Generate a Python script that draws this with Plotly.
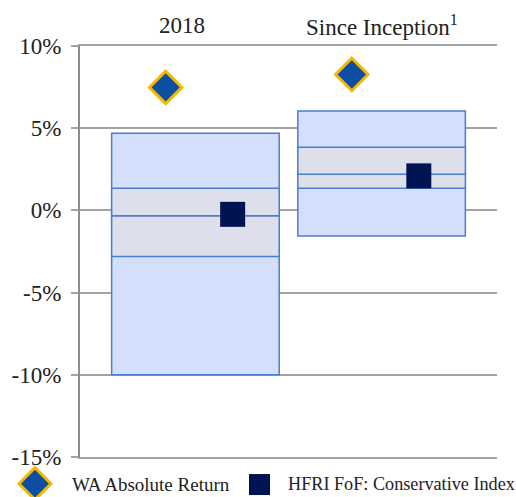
import plotly.graph_objects as go

# datos
categories = ["2018", "Since Inception<sup>1</sup>"]
range_low = [-10.0, -1.55]
range_high = [4.7, 6.05]
q1 = [-2.8, 1.35]
median = [-0.33, 2.2]
q3 = [1.35, 3.84]
wa_return = [7.48, 8.27]
hfri_return = [-0.24, 2.1]
y_ticks = [-15, -10, -5, 0, 5, 10]

font_name = "Liberation Serif"
box_line = "#4A7ECF"
grid_gray = "#A3A3A3"

pos = list(range(len(categories)))

fig = go.Figure()

# rango completo (caja azul clara)
fig.add_trace(go.Bar(
    x=pos, y=[h - l for h, l in zip(range_high, range_low)], base=range_low,
    width=0.9, marker=dict(color="#D4DFFC", line=dict(color=box_line, width=1.5)),
    showlegend=False, hoverinfo="skip"
))
# cuartiles (banda gris) partida en la mediana
fig.add_trace(go.Bar(
    x=pos, y=[m - a for m, a in zip(median, q1)], base=q1,
    width=0.9, marker=dict(color="#DDE0EB", line=dict(color=box_line, width=1.5)),
    showlegend=False, hoverinfo="skip"
))
fig.add_trace(go.Bar(
    x=pos, y=[b - m for b, m in zip(q3, median)], base=median,
    width=0.9, marker=dict(color="#DDE0EB", line=dict(color=box_line, width=1.5)),
    showlegend=False, hoverinfo="skip"
))

# rombos WA y cuadrados HFRI
fig.add_trace(go.Scatter(
    x=[p - 0.16 for p in pos], y=wa_return, mode="markers", name="WA Absolute Return",
    marker=dict(symbol="diamond", size=25, color="#0B4EA2", line=dict(color="#F5B700", width=3)),
    showlegend=False
))
fig.add_trace(go.Scatter(
    x=[p + 0.2 for p in pos], y=hfri_return, mode="markers", name="HFRI FoF: Conservative Index",
    marker=dict(symbol="square", size=25, color="#001352", line=dict(width=0)),
    showlegend=False
))

# etiquetas de categoria arriba
label_shift = [-0.07, 0.0]
for p, cat, s in zip(pos, categories, label_shift):
    fig.add_annotation(x=p + s, y=1.05, xref="x", yref="paper", text=cat, showarrow=False,
                       yanchor="middle", font=dict(family=font_name, size=23, color="#222"))

# leyenda manual
fig.add_shape(type="path", xref="paper", yref="paper", xsizemode="pixel", ysizemode="pixel",
              xanchor=-0.108, yanchor=-0.065, path="M -16 0 L 0 16 L 16 0 L 0 -16 Z",
              fillcolor="#0B4EA2", line=dict(color="#F5B700", width=3))
fig.add_shape(type="path", xref="paper", yref="paper", xsizemode="pixel", ysizemode="pixel",
              xanchor=0.4305, yanchor=-0.067, path="M -10.5 -10.5 L 10.5 -10.5 L 10.5 10.5 L -10.5 10.5 Z",
              fillcolor="#001352", line=dict(width=0))
fig.add_annotation(x=-0.024, y=-0.066, xref="paper", yref="paper", text="WA Absolute Return",
                   showarrow=False, xanchor="left", yanchor="middle",
                   font=dict(family=font_name, size=19, color="#222"))
fig.add_annotation(x=0.494, y=-0.066, xref="paper", yref="paper", text="HFRI FoF: Conservative Index",
                   showarrow=False, xanchor="left", yanchor="middle",
                   font=dict(family=font_name, size=18.2, color="#222"))

fig.update_layout(
    width=516, height=497,
    barmode="overlay",
    margin=dict(l=80, r=19, t=46, b=40),
    plot_bgcolor="white",
    paper_bgcolor="white",
    xaxis=dict(range=[-0.62, 1.62], showticklabels=False, showgrid=False, zeroline=False,
               showline=True, mirror=True, linecolor=grid_gray, linewidth=2),
    yaxis=dict(range=[-15, 10], tickvals=y_ticks, ticktext=[f"{v}%" for v in y_ticks],
               showgrid=True, gridcolor=grid_gray,
               gridwidth=2, zeroline=False, showline=True, linecolor="#8C8C8C", linewidth=2,
               ticks="outside", ticklen=7, tickwidth=2, tickcolor=grid_gray, ticklabelstandoff=5,
               tickfont=dict(family=font_name, size=23, color="#222")),
)

# sin margen del body para que la figura ocupe toda la ventana
fig.write_html("out.html", config={"displayModeBar": False},
               post_script="document.body.style.margin='0';")
